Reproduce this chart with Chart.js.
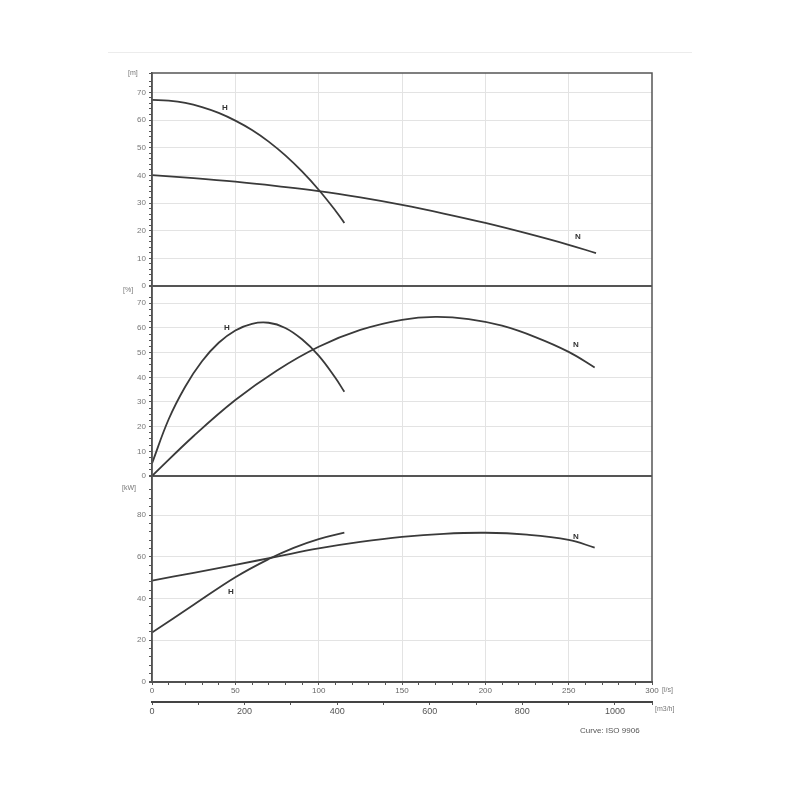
<!DOCTYPE html>
<html>
<head>
<meta charset="utf-8">
<script src="https://cdn.jsdelivr.net/npm/chart.js@4.4.1/dist/chart.umd.min.js"></script>
<style>
  html, body { margin: 0; padding: 0; background: #fff; }
  #wrap { position: relative; width: 800px; height: 800px; font-family: "Liberation Sans", Arial, sans-serif; }
  #wrap canvas { position: absolute; left: 0; top: 0; }
  .rule { position: absolute; left: 108px; top: 52px; width: 584px; border-top: 1px solid #ececec; }
  .lbl { position: absolute; font-size: 7px; color: #777; white-space: nowrap; }
  .note { position: absolute; font-size: 8px; color: #555; white-space: nowrap; }
</style>
</head>
<body>
<div id="wrap">
  <canvas id="grafico" width="800" height="800"></canvas>
  <div class="rule"></div>
  <div class="lbl" style="left:128px; top:69px;">[m]</div>
  <div class="lbl" style="left:123px; top:286px;">[%]</div>
  <div class="lbl" style="left:122px; top:484px;">[kW]</div>
  <div class="lbl" style="left:662px; top:686px;">[l/s]</div>
  <div class="lbl" style="left:655px; top:705px;">[m3/h]</div>
  <div class="note" style="left:580px; top:726px;">Curve: ISO 9906</div>
</div>
<script>
// caudal (l/s) e valores
var alturaHq = [0, 10, 20, 30, 40, 50, 60, 70, 80, 90, 100, 110, 115.4];
var alturaH  = [67.3, 67.0, 66.2, 64.7, 62.6, 59.8, 56.4, 52.2, 47.2, 41.4, 34.8, 27.3, 22.8];
var alturaNq = [0, 25, 50, 75, 100, 125, 150, 175, 200, 225, 250, 266.4];
var alturaN  = [40.1, 39.0, 37.7, 36.1, 34.3, 32.0, 29.3, 26.2, 22.8, 19.0, 14.9, 11.9];

var rendHq = [0, 10, 20, 30, 40, 50, 60, 70, 80, 90, 100, 110, 115.4];
var rendH  = [5.1, 23.0, 36.3, 46.5, 54.0, 59.0, 61.7, 62.1, 60.0, 55.4, 48.8, 39.8, 34.1];
var rendNq = [0, 25, 50, 75, 100, 125, 150, 170, 190, 210, 230, 250, 265.6];
var rendN  = [0, 16.2, 30.8, 42.8, 52.4, 59.2, 63.3, 64.5, 63.6, 60.9, 56.3, 50.3, 44];

var potHq = [0, 25, 50, 70, 85, 100, 115.4];
var potH  = [23.7, 37.0, 50.2, 58.9, 64.3, 68.5, 71.6];
var potNq = [0, 25, 50, 75, 100, 125, 150, 175, 200, 225, 250, 265.6];
var potN  = [48.6, 52.3, 56.1, 60.1, 64.0, 67.1, 69.5, 71.0, 71.5, 70.6, 68.1, 64.4];

// rótulos das curvas
var rotuloTexto = ['H', 'N', 'H', 'N', 'H', 'N'];
var rotuloEixo  = ['yAltura', 'yAltura', 'yRend', 'yRend', 'yPot', 'yPot'];
var rotuloQ     = [43.8, 255.6, 45, 254.4, 47.4, 254.4];
var rotuloV     = [64.6, 17.8, 60, 53.1, 43.1, 69.5];

function pontos(qs, vs) {
    return qs.map(function (q, i) { return { x: q, y: vs[i] }; });
}

function curva(qs, vs, eixo) {
    return {
        data: pontos(qs, vs),
        yAxisID: eixo,
        borderColor: '#3a3a3a',
        borderWidth: 1.8,
        pointRadius: 0,
        fill: false,
        tension: 0.4
    };
}

function eixoY(max, passo, rotulo, peso) {
    return {
        type: 'linear',
        position: 'left',
        stack: 'paineis',
        stackWeight: peso,
        min: 0,
        max: max,
        afterFit: function (s) { s.width = 52; },
        ticks: {
            stepSize: passo,
            autoSkip: false,
            color: '#777',
            font: { size: 8, family: 'Liberation Sans' },
            padding: 3,
            callback: function (v) { return (Math.abs(v % rotulo) < 1e-6) ? v : ''; }
        },
        grid: {
            color: function (c) {
                var v = c.tick.value;
                if (v === 0) return '#555';
                return (Math.abs(v % rotulo) < 1e-6 && v < max) ? '#e3e3e3' : 'rgba(0,0,0,0)';
            },
            lineWidth: function (c) { return c.tick.value === 0 ? 2 : 1; },
            tickColor: '#555',
            tickLength: 3
        },
        border: { color: '#444', width: 1.5 }
    };
}

var moldura = {
    id: 'moldura',
    afterDraw: function (chart) {
        var ctx = chart.ctx, a = chart.chartArea;
        ctx.save();
        ctx.strokeStyle = '#555';
        ctx.lineWidth = 1.5;
        ctx.strokeRect(a.left, a.top, a.right - a.left, a.bottom - a.top);
        ctx.fillStyle = '#333';
        ctx.font = 'bold 8px "Liberation Sans", Arial';
        ctx.textAlign = 'center';
        ctx.textBaseline = 'middle';
        rotuloTexto.forEach(function (t, i) {
            var px = chart.scales.x.getPixelForValue(rotuloQ[i]);
            var py = chart.scales[rotuloEixo[i]].getPixelForValue(rotuloV[i]);
            ctx.fillText(t, px, py);
        });
        ctx.restore();
    }
};

new Chart(document.getElementById('grafico').getContext('2d'), {
    type: 'line',
    data: {
        datasets: [
            curva(alturaHq, alturaH, 'yAltura'),
            curva(alturaNq, alturaN, 'yAltura'),
            curva(rendHq, rendH, 'yRend'),
            curva(rendNq, rendN, 'yRend'),
            curva(potHq, potH, 'yPot'),
            curva(potNq, potN, 'yPot')
        ]
    },
    options: {
        responsive: false,
        animation: false,
        layout: { padding: { left: 100, right: 148, top: 73, bottom: 80 } },
        plugins: { legend: { display: false }, tooltip: { enabled: false } },
        scales: {
            x: {
                type: 'linear',
                position: 'bottom',
                min: 0,
                max: 300,
                afterFit: function (s) { s.height = 20; },
                ticks: {
                    stepSize: 10,
                    autoSkip: false,
                    maxRotation: 0,
                    color: '#666',
                    font: { size: 8, family: 'Liberation Sans' },
                    padding: 1,
                    callback: function (v) { return v % 50 === 0 ? v : ''; }
                },
                grid: {
                    color: function (c) { return (c.tick.value % 50 === 0 && c.tick.value > 0 && c.tick.value < 300) ? '#e3e3e3' : 'rgba(0,0,0,0)'; },
                    tickColor: '#555',
                    tickLength: 3
                },
                border: { color: '#444', width: 2 }
            },
            x2: {
                type: 'linear',
                position: 'bottom',
                min: 0,
                max: 1080,
                afterFit: function (s) { s.height = 18; },
                ticks: {
                    stepSize: 100,
                    autoSkip: false,
                    maxRotation: 0,
                    color: '#555',
                    font: { size: 9, family: 'Liberation Sans' },
                    padding: 1,
                    callback: function (v) { return v % 200 === 0 ? v : ''; }
                },
                grid: { drawOnChartArea: false, color: '#555', tickLength: 3 },
                border: { color: '#444', width: 2 }
            },
            // a pilha à esquerda é montada na ordem inversa: o último fica em cima
            yPot: eixoY(98.7, 4, 20, 206),
            yRend: eixoY(77, 2.5, 10, 190),
            yAltura: eixoY(77, 2, 10, 213)
        }
    },
    plugins: [moldura]
});
</script>
</body>
</html>
